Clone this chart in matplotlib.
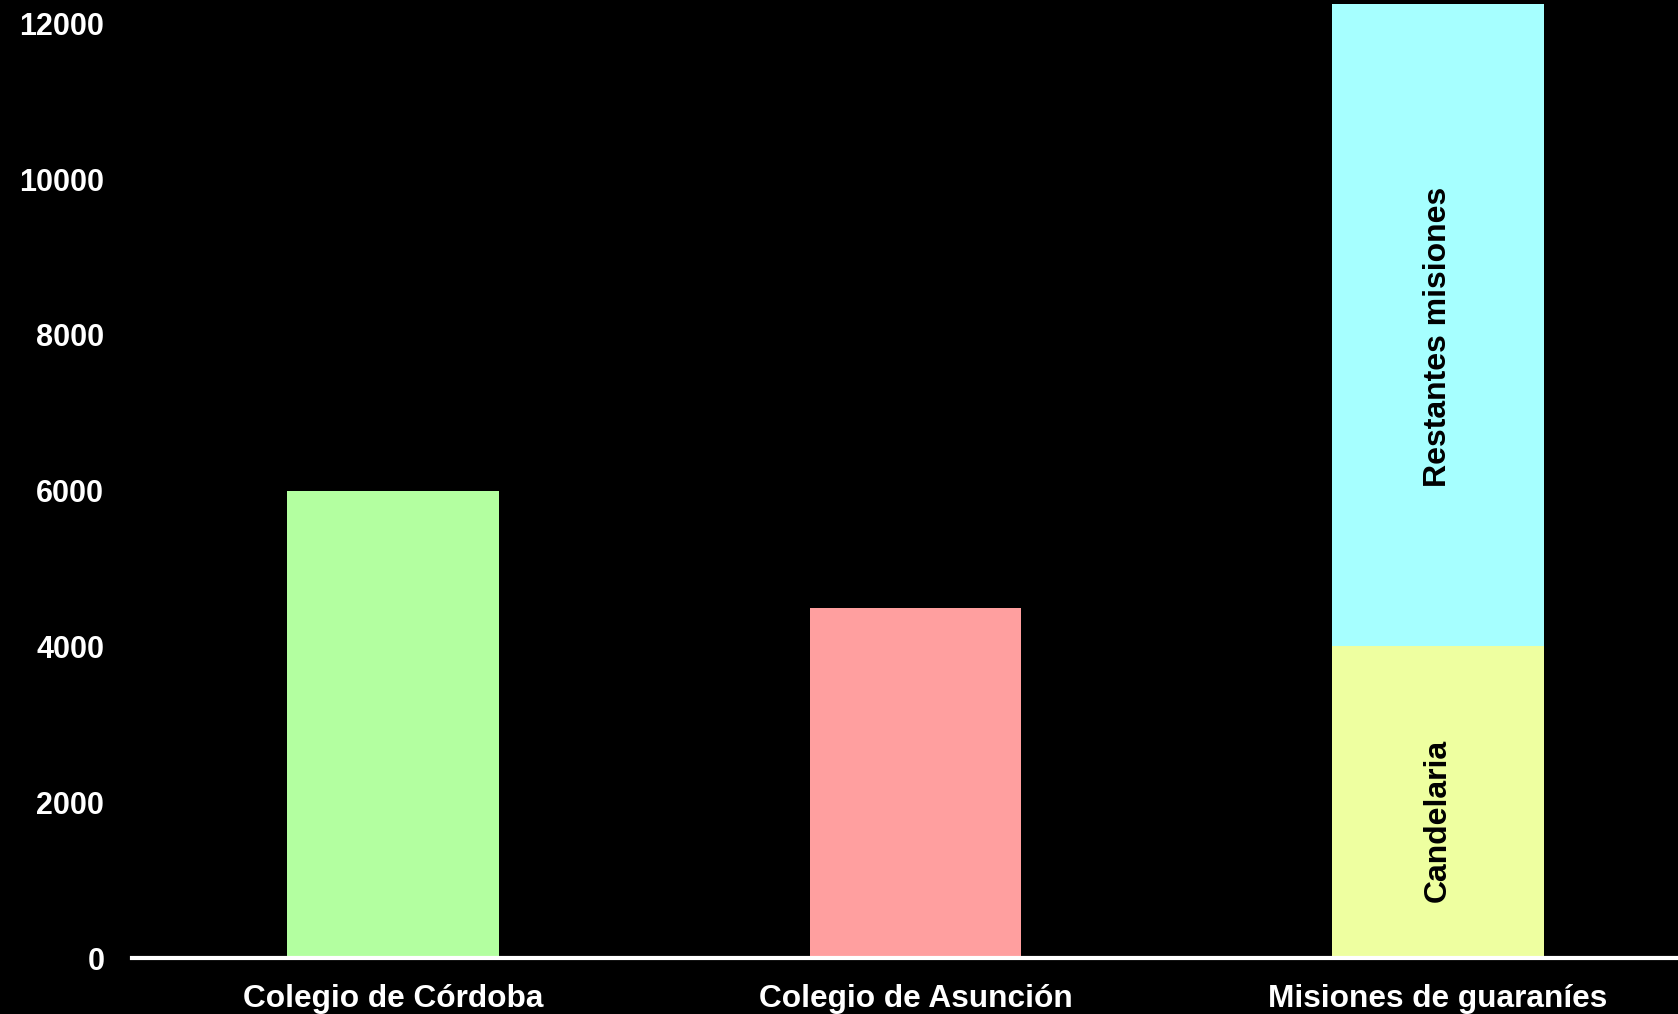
import matplotlib.pyplot as plt
import numpy as np

plt.rcParams['font.family'] = ['Liberation Sans', 'DejaVu Sans']

categorias = ['Colegio de Córdoba', 'Colegio de Asunción', 'Misiones de guaraníes']
base = [6000, 4500, 4000]
restantes = [0, 0, 8250]
colores_base = ['#b3ffa0', '#ff9f9f', '#eeffa0']
color_rest = '#a6ffff'
etiquetas_y = [0, 2000, 4000, 6000, 8000, 10000, 12000]

fig = plt.figure(figsize=(16.78, 10.14), dpi=100, facecolor='black')
ax = fig.add_axes([0.0787, 0.0552, 1 - 0.0787, 1 - 0.0552])
ax.set_facecolor('black')

x = np.arange(len(categorias))
ax.bar(x, base, width=0.405, color=colores_base)
ax.bar(x, restantes, width=0.405, bottom=base, color=color_rest)

ax.text(2, 7980, 'Restantes misiones', rotation=90, ha='center', va='center',
        fontsize=23, fontweight='bold', color='black')
ax.text(2, 1770, 'Candelaria', rotation=90, ha='center', va='center',
        fontsize=23, fontweight='bold', color='black')

ax.set_xlim(-0.5, 2.46)
ax.set_ylim(0, 12300)
ax.set_xticks(x)
ax.set_xticklabels(categorias)
ax.set_yticks(etiquetas_y)
ax.tick_params(axis='both', length=0, colors='white', labelsize=22)
ax.tick_params(axis='x', labelsize=22.8, pad=19)
ax.tick_params(axis='y', pad=20)
for lab in ax.get_xticklabels() + ax.get_yticklabels():
    lab.set_fontweight('bold')

for s in ['top', 'right', 'left']:
    ax.spines[s].set_visible(False)
ax.spines['bottom'].set_color('white')
ax.spines['bottom'].set_linewidth(3)

fig.savefig('out.png', dpi=100, facecolor='black')
